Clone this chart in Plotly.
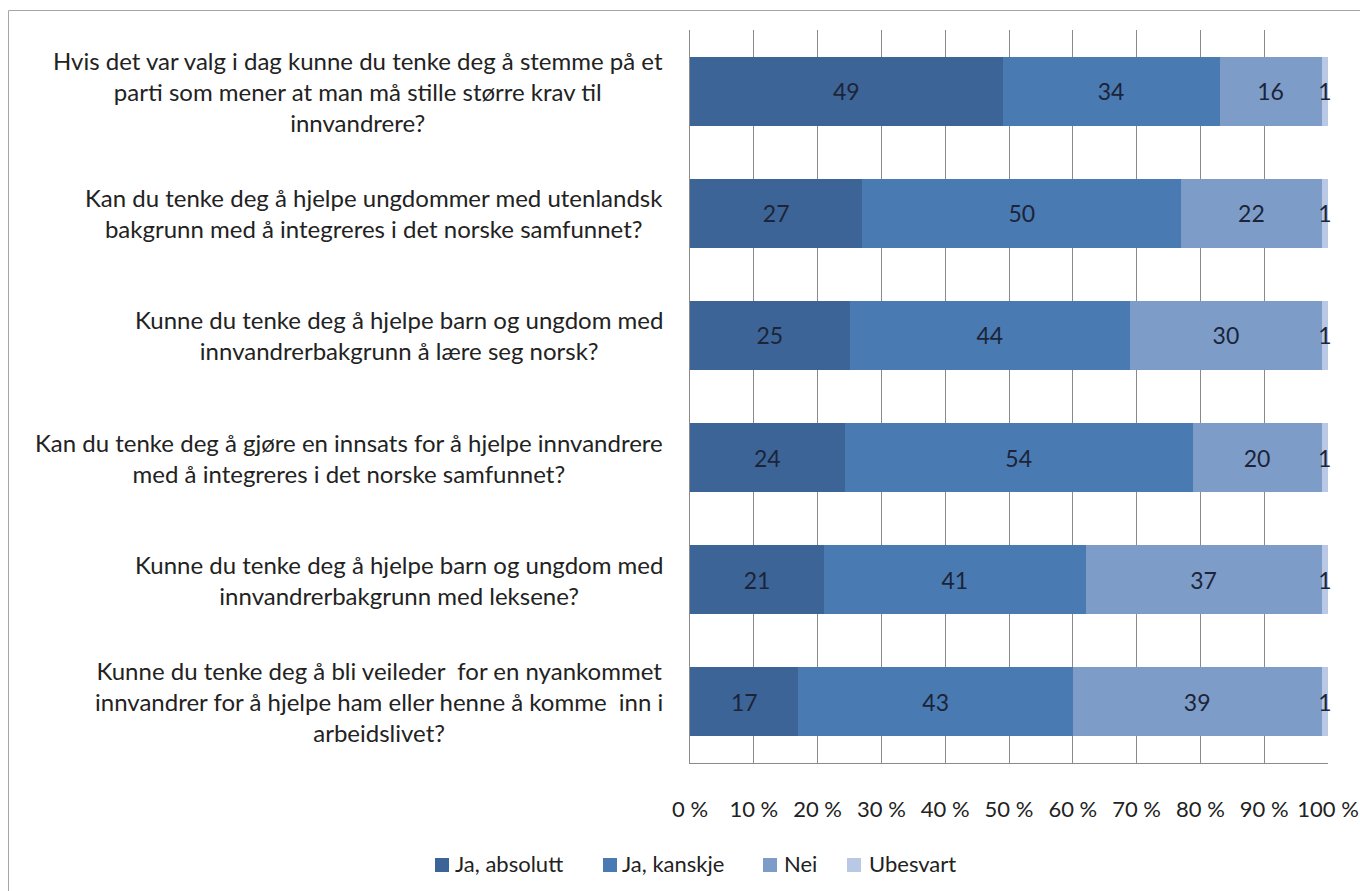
import plotly.graph_objects as go

questions = [
    "Hvis det var valg i dag kunne du tenke deg å stemme på et<br>parti som mener at man må stille større krav til<br>innvandrere?",
    "Kan du tenke deg å hjelpe ungdommer med utenlandsk<br>bakgrunn med å integreres i det norske samfunnet?",
    "Kunne du tenke deg å hjelpe barn og ungdom med<br>innvandrerbakgrunn å lære seg norsk?",
    "Kan du tenke deg å gjøre en innsats for å hjelpe innvandrere<br>med å integreres i det norske samfunnet?",
    "Kunne du tenke deg å hjelpe barn og ungdom med<br>innvandrerbakgrunn med leksene?",
    "Kunne du tenke deg å bli veileder  for en nyankommet<br>innvandrer for å hjelpe ham eller henne å komme  inn i<br>arbeidslivet?",
]
series_names = ["Ja, absolutt", "Ja, kanskje", "Nei", "Ubesvart"]
ja_absolutt = [49, 27, 25, 24, 21, 17]
ja_kanskje = [34, 50, 44, 54, 41, 43]
nei = [16, 22, 30, 20, 37, 39]
ubesvart = [1, 1, 1, 1, 1, 1]
tick_vals = [0, 10, 20, 30, 40, 50, 60, 70, 80, 90, 100]
tick_text = ["0 %", "10 %", "20 %", "30 %", "40 %", "50 %", "60 %", "70 %", "80 %", "90 %", "100 %"]

colors = ["#3D6496", "#4A7AB2", "#7E9CC8", "#B9C8E4"]
FONT = "Lato"

W, H = 1360, 891
L = 690
T = 30
B = H - 763
R = W - 1328
pw, ph = W - L - R, H - T - B


def px_x(v):
    return (v - L) / pw


def px_y(v):
    return (H - B - v) / ph


fig = go.Figure()
for name, vals, col in zip(series_names, [ja_absolutt, ja_kanskje, nei, ubesvart], colors):
    fig.add_trace(go.Bar(
        y=questions, x=vals, name=name, orientation="h",
        marker=dict(color=col, line=dict(width=0)),
        text=[str(v) for v in vals], textposition="inside",
        insidetextanchor="middle", constraintext="none",
        textfont=dict(family=FONT, size=23, color="#1B2438"),
        cliponaxis=False, hoverinfo="skip", showlegend=False,
    ))

annotations = []
for q in questions:
    annotations.append(dict(
        x=0, xref="paper", y=q, yref="y", xanchor="right", yanchor="middle",
        xshift=-25, text=q, align="center", showarrow=False,
        font=dict(family=FONT, size=24, color="#222222"),
    ))

shapes = [
    dict(type="line", xref="paper", yref="paper", x0=px_x(8.5), x1=px_x(1370), y0=px_y(10.5), y1=px_y(10.5),
         line=dict(color="#A6A6A6", width=1)),
    dict(type="line", xref="paper", yref="paper", x0=px_x(8.5), x1=px_x(8.5), y0=px_y(10.5), y1=px_y(900),
         line=dict(color="#A6A6A6", width=1)),
]

# manual legend (square + label), positions in page pixels
legend_sq_x = [435, 603, 763, 847]
legend_txt_x = [453, 620, 782, 867]
LEG_Y = 865
SQ = 14
for name, col, sx, tx in zip(series_names, colors, legend_sq_x, legend_txt_x):
    shapes.append(dict(type="rect", xref="paper", yref="paper",
                       x0=px_x(sx), x1=px_x(sx + SQ), y0=px_y(LEG_Y - SQ / 2), y1=px_y(LEG_Y + SQ / 2),
                       fillcolor=col, line=dict(width=0)))
    annotations.append(dict(x=px_x(tx), xref="paper", y=px_y(LEG_Y - 2), yref="paper",
                            xanchor="left", yanchor="middle", text=name, showarrow=False,
                            font=dict(family=FONT, size=22, color="#222222")))

fig.update_layout(
    width=W, height=H, autosize=False,
    margin=dict(l=L, r=R, t=T, b=B),
    paper_bgcolor="white", plot_bgcolor="white",
    barmode="stack", barnorm="percent", bargap=0.435,
    font=dict(family=FONT, size=22, color="#222222"),
    xaxis=dict(range=[0, 100], tickvals=tick_vals, ticktext=tick_text,
               showgrid=True, gridcolor="#8A8A8A", gridwidth=1,
               showline=True, linecolor="#8A8A8A", linewidth=1,
               zeroline=False, ticks="", ticklabelstandoff=27, ticklabeloverflow="allow",
               automargin=False,
               tickfont=dict(family=FONT, size=22, color="#222222"), fixedrange=True),
    yaxis=dict(autorange="reversed", showticklabels=False, showgrid=False, automargin=False,
               showline=True, linecolor="#8A8A8A", linewidth=1, zeroline=False, ticks=""),
    annotations=annotations,
    shapes=shapes,
    showlegend=False,
)

fig.write_html(
    "out.html",
    config={"responsive": False, "displayModeBar": False},
    post_script="document.body.style.margin='0px';document.body.style.overflow='hidden';",
)
